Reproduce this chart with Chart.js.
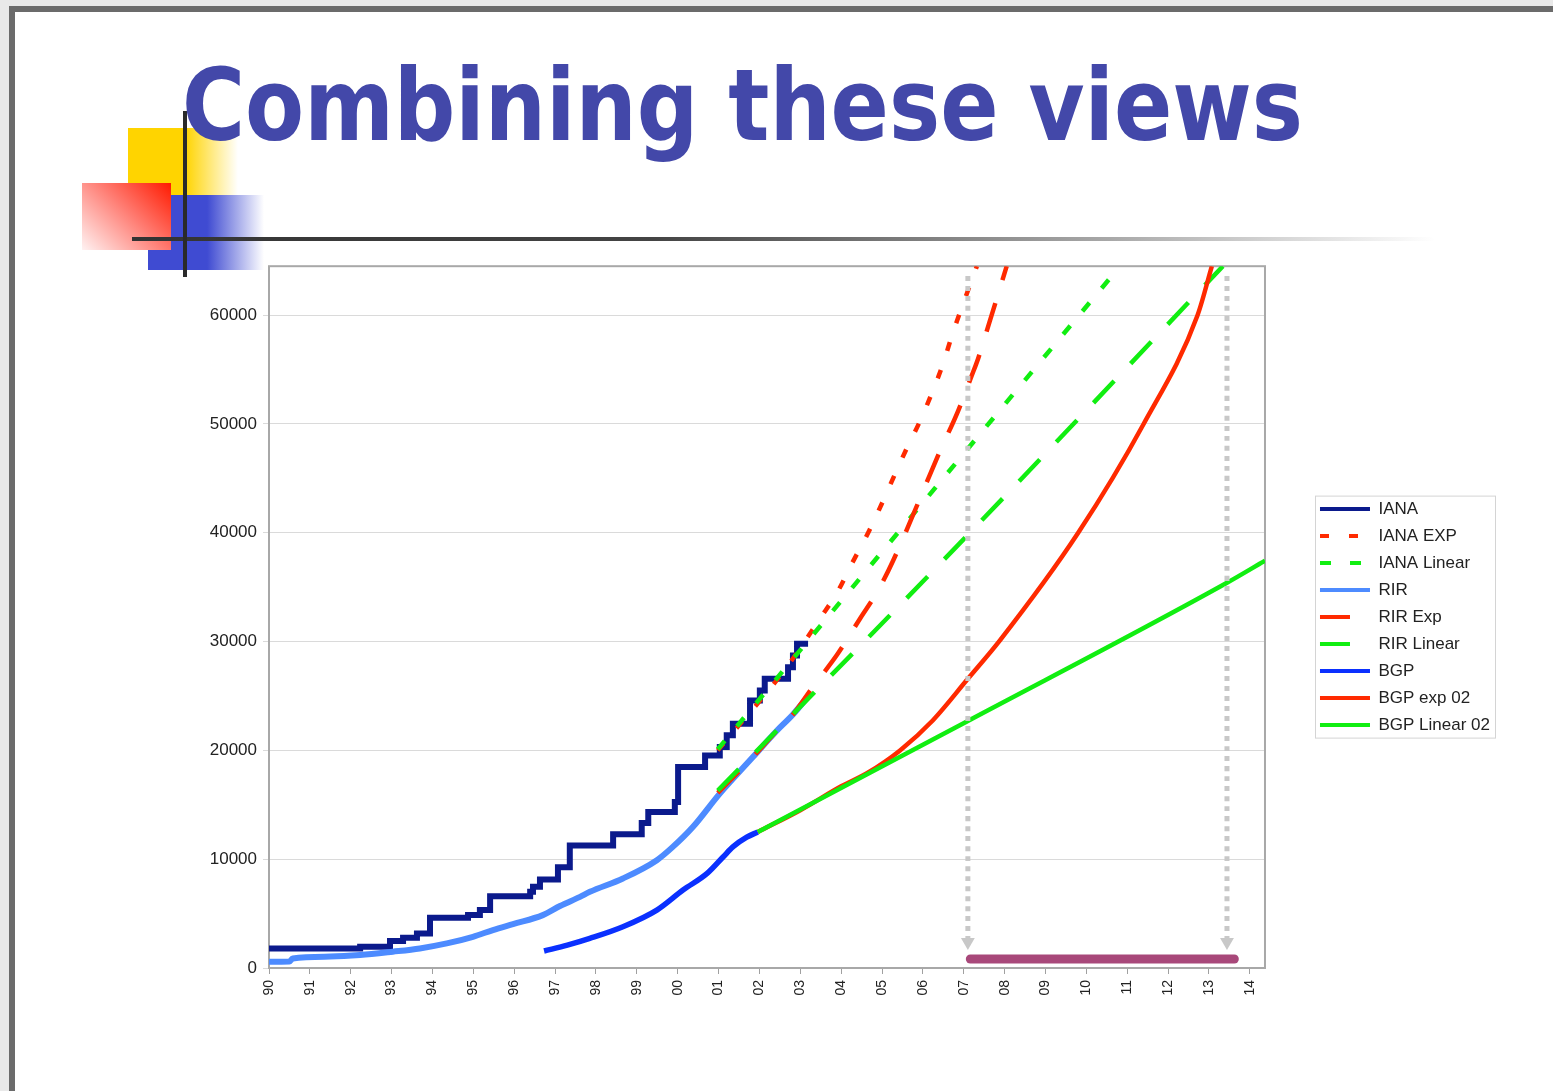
<!DOCTYPE html>
<html>
<head>
<meta charset="utf-8">
<script src="https://cdn.jsdelivr.net/npm/chart.js@4.4.1/dist/chart.umd.min.js"></script>
<style>
  html, body { margin: 0; padding: 0; width: 1553px; height: 1091px; overflow: hidden; background: #e9e9e9; }
  #slide { position: absolute; left: 9px; top: 6px; width: 1560px; height: 1100px; background: #fff;
           border-left: 6px solid #6b6b6b; border-top: 6px solid #6b6b6b; }
  .deco { position: absolute; }
  #yellow { left: 128px; top: 128px; width: 110px; height: 67px;
            background: linear-gradient(to right, #ffd400 0%, #ffd400 52%, rgba(255,212,0,0) 100%); }
  #blue { left: 148px; top: 195px; width: 116px; height: 75px;
          background: linear-gradient(to right, #3f4bd2 0%, #3f4bd2 51%, rgba(63,75,210,0) 100%); }
  #red { left: 82px; top: 183px; width: 89px; height: 67px;
         background: linear-gradient(225deg, #ff1a00 0%, #ff7a70 45%, #fff2f2 100%); }
  #hline { left: 132px; top: 237px; width: 1303px; height: 4px;
           background: linear-gradient(to right, #333 0%, #444 40%, rgba(110,110,110,0.6) 75%, rgba(255,255,255,0) 100%); }
  #vline { left: 183px; top: 111px; width: 4px; height: 166px; background: #2a2a2a; }
  #title { position: absolute; left: 182px; top: 56px; font: bold 100px 'DejaVu Sans', Verdana, sans-serif;
           line-height: 100px; color: #4348a9; white-space: nowrap; transform: scaleX(0.86); transform-origin: 0 0; }
  #wrap { position: absolute; left: 150px; top: 250px; width: 1350px; height: 780px; }
</style>
</head>
<body>
<div id="slide"></div>
<div class="deco" id="yellow"></div>
<div class="deco" id="blue"></div>
<div class="deco" id="red"></div>
<div class="deco" id="hline"></div>
<div class="deco" id="vline"></div>
<div id="title">Combining these views</div>
<div id="wrap"><canvas id="myChart" width="1350" height="780"></canvas></div>
<script>
// tick labels
var yearLabels = ['90','91','92','93','94','95','96','97','98','99','00','01','02','03','04','05','06','07','08','09','10','11','12','13','14'];
var yTickValues = [0, 10000, 20000, 30000, 40000, 50000, 60000];

// IANA allocations (step line)
var ianaYears  = [1990.0, 1992.23, 1992.96, 1993.28, 1993.62, 1993.94, 1994.87, 1995.16, 1995.41, 1996.39, 1996.46, 1996.63, 1997.07, 1997.36, 1998.42, 1999.12, 1999.28, 1999.93, 2000.01, 2000.67, 2001.03, 2001.2, 2001.35, 2001.77, 2002.01, 2002.13, 2002.7, 2002.82, 2002.92, 2003.19];
var ianaValues = [1800, 1950, 2480, 2780, 3180, 4620, 4860, 5320, 6600, 7000, 7460, 8140, 9250, 11250, 12290, 13330, 14340, 15260, 18470, 19540, 20300, 21380, 22450, 24590, 25500, 26580, 27640, 28720, 29790, 29790];

var ianaExpYears  = [2000.98, 2001.6, 2002.06, 2002.55, 2002.99, 2003.48, 2003.9, 2004.26, 2004.7, 2005.61, 2005.93, 2006.22, 2006.49, 2006.73, 2006.98, 2007.32];
var ianaExpValues = [20000, 22750, 24770, 27060, 29360, 32110, 34500, 37150, 40300, 47800, 50270, 52840, 55500, 58350, 61000, 64500];

var ianaLinYears  = [2000.98, 2007.47, 2010.6];
var ianaLinValues = [20100, 49400, 63500];

// RIR allocations
var rirYears  = [1990.0, 1990.5, 1990.58, 1991.5, 1992.23, 1993.03, 1993.69, 1994.35, 1994.99, 1995.48, 1995.97, 1996.7, 1997.12, 1997.61, 1997.85, 1998.66, 1999.49, 1999.88, 2000.37, 2001.03, 2001.84, 2002.43, 2002.82, 2003.2];
var rirValues = [580, 600, 880, 1050, 1190, 1500, 1800, 2260, 2870, 3490, 4040, 4860, 5700, 6540, 7000, 8230, 9910, 11130, 12960, 16030, 19390, 21830, 23300, 25000];

var rirExpYears  = [2000.98, 2001.84, 2002.43, 2002.82, 2003.28, 2003.92, 2004.46, 2004.9, 2005.27, 2006.42, 2006.86, 2007.2, 2007.35, 2007.64, 2008.05];
var rirExpValues = [16100, 19400, 21830, 23300, 25690, 28900, 32100, 34680, 37430, 47520, 51190, 54500, 56000, 59500, 64500];

var rirLinYears  = [2000.98, 2006.49, 2013.34];
var rirLinValues = [16300, 37430, 64500];

// BGP table
var bgpYears  = [1996.73, 1997.3, 1997.85, 1998.66, 1999.49, 2000.13, 2000.72, 2001.11, 2001.35, 2001.69, 2001.96];
var bgpValues = [1560, 2100, 2720, 3790, 5320, 7160, 8690, 10200, 11130, 12020, 12500];

var bgpExpYears  = [2001.96, 2003.0, 2004.0, 2004.63, 2005.44, 2006.24, 2007.1, 2007.88, 2009.8, 2011.4, 2012.72, 2013.07];
var bgpExpValues = [12500, 14500, 16700, 17900, 20000, 22750, 26580, 30090, 40000, 50000, 60000, 64500];

var bgpLinYears  = [2001.96, 2007.1, 2013.44, 2014.37];
var bgpLinValues = [12500, 22700, 35400, 37430];

// exhaustion window markers
var arrowYears  = [2007.1, 2013.44];
var arrowValues = [63600, 2400];
var rangeYears  = [2007.16, 2013.62];
var rangeValue  = 830;

var RED = '#ff2a00', GREEN = '#11ee11';
var FONT = "'Liberation Sans', Arial, sans-serif";

function pts(xs, ys) {
    return xs.map(function(x, i) { return {x: x, y: ys[i]}; });
}

function line(label, xs, ys, color, width, dash, extra) {
    var ds = {
        label: label,
        data: pts(xs, ys),
        borderColor: color,
        backgroundColor: color,
        borderWidth: width,
        borderDash: dash || [],
        pointRadius: 0,
        fill: false,
        cubicInterpolationMode: 'monotone'
    };
    return Object.assign(ds, extra || {});
}

var datasets = [
    line('IANA', ianaYears, ianaValues, '#0b1a8c', 6, null, {stepped: true}),
    line('IANA EXP', ianaExpYears, ianaExpValues, RED, 4.5, [9, 20]),
    line('IANA Linear', ianaLinYears, ianaLinValues, GREEN, 4.5, [11, 19]),
    line('RIR', rirYears, rirValues, '#4d8bff', 6),
    line('RIR Exp', rirExpYears, rirExpValues, RED, 4.5, [30, 24]),
    line('RIR Linear', rirLinYears, rirLinValues, GREEN, 4.5, [30, 24]),
    line('BGP', bgpYears, bgpValues, '#0a30ff', 5.5),
    line('BGP exp 02', bgpExpYears, bgpExpValues, RED, 4.5),
    line('BGP Linear 02', bgpLinYears, bgpLinValues, GREEN, 4.5)
];

arrowYears.forEach(function(yr) {
    datasets.push(line('', [yr, yr], arrowValues, '#c8c8c8', 5, [5, 5], {
        pointRadius: [0, 8], pointStyle: 'triangle', pointRotation: 180,
        pointBackgroundColor: '#c8c8c8', pointBorderWidth: 0
    }));
});
datasets.push(line('', rangeYears, [rangeValue, rangeValue], '#a8487a', 9, null, {borderCapStyle: 'round'}));

// later series are drawn on top, like the original
datasets.forEach(function(ds, i) { ds.order = -i; });

var framePlugin = {
    id: 'frame',
    afterLayout: function(chart) {
        // centre the legend on the plot, not on the whole canvas
        var a = chart.chartArea;
        chart.legend.top = a.top;
        chart.legend.bottom = a.bottom;
        chart.legend.height = a.bottom - a.top;
    },
    beforeDatasetsDraw: function(chart) {
        var a = chart.chartArea, ctx = chart.ctx;
        ctx.save();
        ctx.strokeStyle = '#a8a8a8';
        ctx.lineWidth = 2;
        ctx.strokeRect(a.left, a.top, a.right - a.left, a.bottom - a.top);
        ctx.restore();
    },
    afterDraw: function(chart) {
        var boxes = chart.legend.legendHitBoxes;
        if (!boxes || !boxes.length) return;
        var first = boxes[0], last = boxes[boxes.length - 1];
        var right = Math.max.apply(null, boxes.map(function(b) { return b.left + b.width; }));
        var ctx = chart.ctx;
        ctx.save();
        ctx.strokeStyle = '#d4d4d4';
        ctx.lineWidth = 1;
        ctx.strokeRect(first.left - 4.5, first.top - 4.5, right - first.left + 10, last.top + last.height - first.top + 9);
        ctx.restore();
    }
};

var ctx = document.getElementById('myChart').getContext('2d');
var chart = new Chart(ctx, {
    type: 'line',
    data: { datasets: datasets },
    plugins: [framePlugin],
    options: {
        responsive: false,
        animation: false,
        layout: { padding: { top: 15, left: 0, right: 0, bottom: 0 } },
        plugins: {
            tooltip: { enabled: false },
            legend: {
                position: 'right',
                labels: {
                    usePointStyle: true,
                    pointStyleWidth: 50,
                    padding: 10,
                    color: '#222',
                    font: { family: FONT, size: 17 },
                    generateLabels: function(chart) {
                        return chart.data.datasets.slice(0, 9).map(function(ds, i) {
                            return {
                                text: ds.label,
                                strokeStyle: ds.borderColor,
                                fillStyle: ds.borderColor,
                                lineWidth: 4,
                                lineDash: ds.borderDash,
                                lineCap: 'butt',
                                pointStyle: 'line',
                                hidden: false,
                                fontColor: '#222',
                                datasetIndex: i
                            };
                        });
                    }
                }
            }
        },
        scales: {
            x: {
                type: 'linear',
                min: 1990,
                max: 2014.37,
                ticks: {
                    stepSize: 1,
                    includeBounds: false,
                    autoSkip: false,
                    minRotation: 90,
                    maxRotation: 90,
                    padding: 6,
                    color: '#222',
                    font: { family: FONT, size: 14 },
                    callback: function(v) { return yearLabels[Math.round(v - 1990)]; }
                },
                grid: { drawOnChartArea: false, tickLength: 6, color: '#a0a0a0' },
                border: { display: false },
                afterFit: function(s) { s.height = 62; }
            },
            y: {
                min: 0,
                max: 64500,
                ticks: {
                    padding: 6,
                    color: '#222',
                    font: { family: FONT, size: 17 },
                    callback: function(v) { return String(v); }
                },
                afterBuildTicks: function(s) {
                    s.ticks = yTickValues.map(function(v) { return {value: v}; });
                },
                grid: { color: '#dadada', tickLength: 6 },
                border: { display: false },
                afterFit: function(s) { s.width = 119; }
            },
            y2: {
                position: 'right',
                min: 0,
                max: 1,
                grid: { display: false },
                ticks: { display: false },
                border: { display: false },
                afterFit: function(s) { s.width = 45; }
            }
        }
    }
});
</script>
</body>
</html>
